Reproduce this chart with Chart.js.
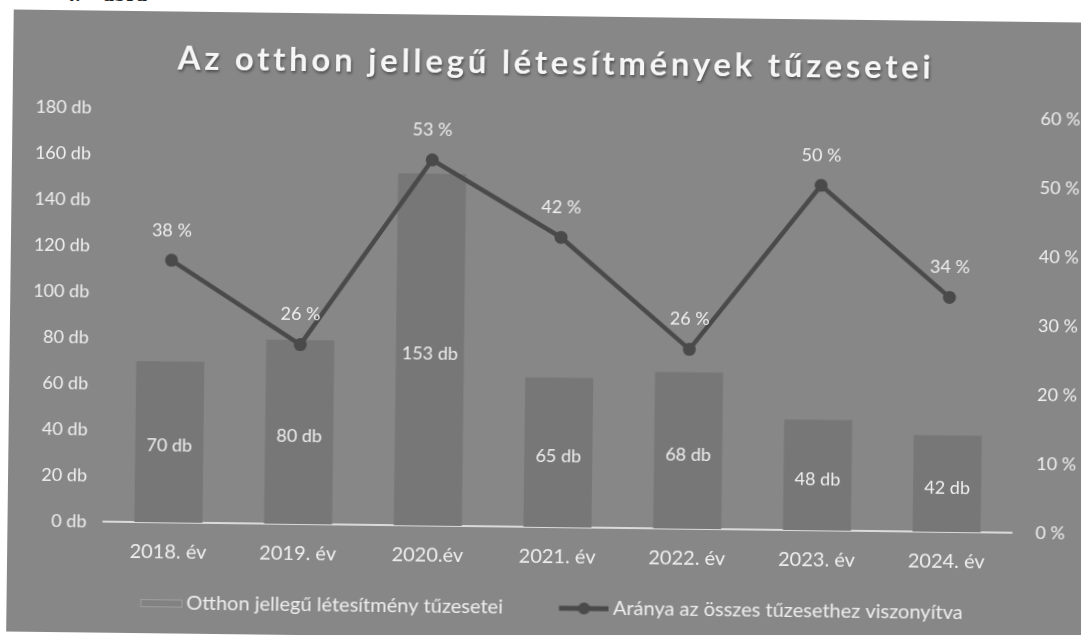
<!DOCTYPE html>
<html><head><meta charset="utf-8">
<script src="https://cdn.jsdelivr.net/npm/chart.js@4.4.1/dist/chart.umd.min.js"></script>
<style>
html,body{margin:0;padding:0;background:#fff;width:1081px;height:635px;overflow:hidden;position:relative}
#cap{position:absolute;left:64px;top:-17px;font:bold 22px 'Liberation Serif';color:#222;white-space:pre;word-spacing:17px;line-height:22px}
#panel{position:absolute;left:10px;top:16px;width:1090px;height:622px;background:#878787;transform-origin:535px 305px;transform:rotate(0.7deg)}
canvas{display:block}
</style></head><body>
<div id="cap">4. ábra</div>
<div id="panel"><canvas id="c" width="1090" height="622" style="width:1090px;height:622px"></canvas></div>
<script>
const categories = ['2018. év','2019. év','2020.év','2021. év','2022. év','2023. év','2024. év'];
const fireCounts = [70, 80, 153, 65, 68, 48, 42];
const sharePercent = [38, 26, 53, 42, 26, 50, 34];
const countTicks = [0, 20, 40, 60, 80, 100, 120, 140, 160, 180];
const percentTicks = [0, 10, 20, 30, 40, 50, 60];
const seriesNames = ['Otthon jellegű létesítmény tűzesetei', 'Aránya az összes tűzesethez viszonyítva'];
const titleText = 'Az otthon jellegű létesítmények tűzesetei';

const BAR = '#777777', LINE = '#4a4a4a', TXT = '#eeeeee';
const LEGEND_TEXT_Y = 592;

function makeBarSwatch(){
  const c = document.createElement('canvas'); c.width = 58; c.height = 14;
  const x = c.getContext('2d');
  x.fillStyle = '#828282'; x.fillRect(16,3,42,8);
  x.strokeStyle = 'rgba(215,215,215,0.35)'; x.lineWidth = 1; x.strokeRect(16.5,3.5,41,7);
  return c;
}
function makeLineSwatch(){
  const c = document.createElement('canvas'); c.width = 58; c.height = 14;
  const x = c.getContext('2d');
  x.strokeStyle = LINE; x.lineWidth = 5; x.beginPath(); x.moveTo(8,7); x.lineTo(58,7); x.stroke();
  x.fillStyle = LINE; x.beginPath(); x.arc(33,7,6,0,Math.PI*2); x.fill();
  return c;
}
const swatches = [makeBarSwatch(), makeLineSwatch()];

const valueLabels = {
  id: 'valueLabels',
  afterDatasetsDraw(chart){
    const ctx = chart.ctx;
    ctx.save();
    ctx.font = '18px Lato';
    ctx.fillStyle = TXT;
    ctx.textAlign = 'center';
    ctx.textBaseline = 'middle';
    const ds = chart.data.datasets;
    chart.getDatasetMeta(0).data.forEach((el, i) => {
      ctx.fillText(ds[0].data[i] + ' db', el.x, (el.y + el.base) / 2 + 4);
    });
    chart.getDatasetMeta(1).data.forEach((el, i) => {
      ctx.fillText(ds[1].data[i] + ' %', el.x, el.y - 30);
    });
    ctx.restore();
  }
};

const boxTweaks = {
  id: 'boxTweaks',
  afterInit(chart){
    const tb = chart.titleBlock;
    if (tb) {
      const origT = tb.draw;
      tb.draw = function(){
        const ctx = this.ctx;
        ctx.save();
        ctx.letterSpacing = '3.7px';
        ctx.shadowColor = 'rgba(0,0,0,0.45)';
        ctx.shadowOffsetX = 1; ctx.shadowOffsetY = 2; ctx.shadowBlur = 3;
        origT.apply(this, arguments);
        ctx.restore();
      };
    }
    const lg = chart.legend;
    if (lg) {
      const origFit = lg.fit;
      lg.fit = function(){ origFit.apply(this, arguments); this.height = 50; };
      const origD = lg.draw;
      lg.draw = function(){
        const saved = {top: this.top, bottom: this.bottom, left: this.left, right: this.right};
        const pad = this.options.labels.padding;
        const fs = this.options.labels.font.size;
        this.top = LEGEND_TEXT_Y - fs / 2 - pad;
        this.bottom = chart.height;
        this.left -= 3; this.right -= 3;
        origD.apply(this, arguments);
        Object.assign(this, saved);
      };
    }
  }
};

const tickFont = {family: 'Lato', size: 18};
const bigFont = {family: 'Lato', size: 20};

new Chart(document.getElementById('c'), {
  data: {
    labels: categories,
    datasets: [
      {type: 'bar', label: seriesNames[0], data: fireCounts, yAxisID: 'y', order: 1,
       backgroundColor: BAR, borderWidth: 0, categoryPercentage: 1, barPercentage: 0.525},
      {type: 'line', label: seriesNames[1], data: sharePercent, yAxisID: 'y1', order: 0,
       borderColor: LINE, backgroundColor: LINE, borderWidth: 4.5, pointRadius: 6.5,
       pointBackgroundColor: LINE, pointBorderWidth: 0, tension: 0}
    ]
  },
  options: {
    responsive: false,
    animation: false,
    layout: {padding: {left: 0, right: 4, top: 0, bottom: 11}},
    plugins: {
      title: {display: true, text: titleText, color: '#f6f6f6',
        font: {family: 'Lato', size: 33, weight: 'bold'}, padding: {top: 28, bottom: 29.4}},
      legend: {display: true, position: 'bottom',
        labels: {color: TXT, font: bigFont, padding: 54, usePointStyle: true, pointStyleWidth: 46, boxHeight: 18,
          sort: (a, b) => a.datasetIndex - b.datasetIndex,
          generateLabels(chart){
            const items = Chart.defaults.plugins.legend.labels.generateLabels(chart);
            items.forEach(it => { it.pointStyle = swatches[it.datasetIndex]; it.fontColor = TXT; });
            return items;
          }}},
      tooltip: {enabled: false}
    },
    scales: {
      x: {grid: {display: false}, border: {display: true, color: '#dadada', width: 2},
          ticks: {color: TXT, font: bigFont, padding: 10, maxRotation: 0, autoSkip: false},
          afterFit: s => { s.height = 50; }},
      y: {position: 'left', min: 0, max: 180, grid: {display: false}, border: {display: false},
          ticks: {color: TXT, font: tickFont, padding: 9, callback: v => v + ' db'},
          afterBuildTicks: s => { s.ticks = countTicks.map(v => ({value: v})); },
          afterFit: s => { s.width = 96; }},
      y1: {position: 'right', min: 0, max: 60, grid: {display: false}, border: {display: false},
          ticks: {color: TXT, font: tickFont, padding: 16, callback: v => v + ' %'},
          afterBuildTicks: s => { s.ticks = percentTicks.map(v => ({value: v})); },
          afterFit: s => { s.width = 82; }}
    }
  },
  plugins: [valueLabels, boxTweaks]
});
</script>
</body></html>
